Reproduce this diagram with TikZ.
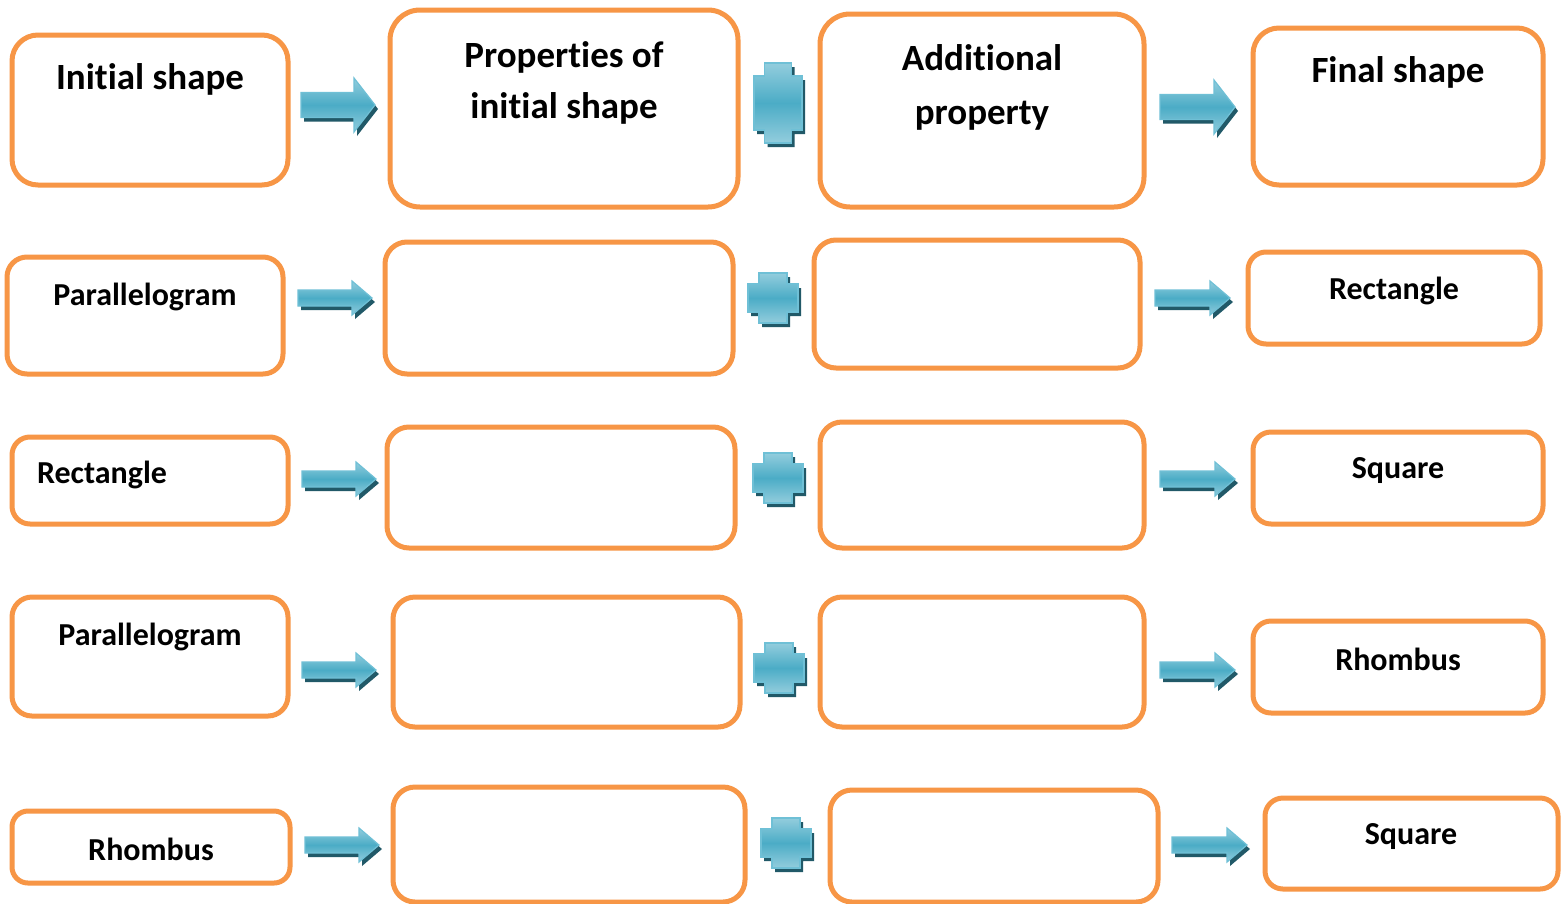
\documentclass[tikz,border=0pt]{standalone}
\usepackage{fontspec}
\setmainfont{Carlito}[Ligatures={NoCommon}]
\definecolor{boxor}{HTML}{F79646}
\definecolor{arrmid}{HTML}{4BACC6}
\definecolor{arrlight}{HTML}{93CDDD}
\definecolor{arredge}{HTML}{6FC0D6}
\definecolor{arrshadow}{HTML}{215968}
\tikzset{
  box/.style={draw=boxor, line width=5pt, fill=white, inner sep=0pt},
  hdr/.style={font=\fontsize{37}{51}\selectfont\bfseries, align=center, inner sep=0pt},
  lbl/.style={font=\fontsize{32}{36}\selectfont\bfseries, inner sep=0pt},
  shapebody/.style={top color=arrlight, bottom color=arrlight, middle color=arrmid, draw=arredge, line width=1.2pt},
  shapeshadow/.style={fill=arrshadow},
}
% box: name, x1, y1, x2, y2, radius
\newcommand\obox[6]{\node[box, rounded corners=#6, minimum width={(#4-#2)*1pt}, minimum height={(#5-#3)*1pt}] (#1) at ({(#2+#4)/2},{(#3+#5)/2}) {};}
% block arrow: xL, xT, yc, shaft half, head half, head length
\newcommand\barrow[6]{%
  \def\arrpath{(#1,{#3-#4}) -- ({#2-#6},{#3-#4}) -- ({#2-#6},{#3-#5}) -- (#2,#3) -- ({#2-#6},{#3+#5}) -- ({#2-#6},{#3+#4}) -- (#1,{#3+#4}) -- cycle}%
  \fill[shapeshadow, shift={(3,4)}] \arrpath;
  \path[shapebody] \arrpath;}
% plus: xc, yc, W, H, a, b
\newcommand\bplus[6]{%
  \def\pluspath{({#1-#5},{#2-#4}) -- ({#1+#5},{#2-#4}) -- ({#1+#5},{#2-#6}) -- ({#1+#3},{#2-#6}) -- ({#1+#3},{#2+#6}) -- ({#1+#5},{#2+#6}) -- ({#1+#5},{#2+#4}) -- ({#1-#5},{#2+#4}) -- ({#1-#5},{#2+#6}) -- ({#1-#3},{#2+#6}) -- ({#1-#3},{#2-#6}) -- ({#1-#5},{#2-#6}) -- cycle}%
  \fill[shapeshadow, shift={(3,4)}] \pluspath;
  \path[shapebody] \pluspath;}
\begin{document}
\begin{tikzpicture}[x=1pt, y=-1pt]
\fill[white] (0,0) rectangle (1563,903);
\useasboundingbox (0,0) rectangle (1563,903);
% Row 1
\obox{a1}{12}{35}{288}{185}{26}
\obox{b1}{390}{10}{738}{207}{30}
\obox{c1}{820}{14}{1144}{207}{30}
\obox{d1}{1253}{28}{1543}{185}{26}
\node[hdr] (ta1) at (150,79) {Initial shape};
\node[hdr] (tb1) at (564,83) {Properties of\\initial shape};
\node[hdr, font=\fontsize{37}{54}\selectfont\bfseries] (tc1) at (982,87) {Additional\\property};
\node[hdr] (td1) at (1398,72) {Final shape};
\barrow{301}{375}{105}{12.5}{27}{21}
\bplus{778}{103}{24}{40}{13.5}{27}
\barrow{1160}{1235}{107}{12.5}{27}{21}
% Row 2
\obox{a2}{7}{257}{283}{374}{20}
\obox{b2}{385}{242}{733}{374}{22}
\obox{c2}{814}{240}{1140}{368}{22}
\obox{d2}{1248}{252}{1540}{344}{18}
\node[lbl] (ta2) at (145,297) {Parallelogram};
\node[lbl] (td2) at (1394,291) {Rectangle};
\barrow{298}{372}{298}{8}{17}{20}
\bplus{773}{298}{25}{25}{14}{14}
\barrow{1155}{1230}{298}{8}{17}{20}
% Row 3
\obox{a3}{12}{437}{288}{524}{18}
\obox{b3}{387}{427}{735}{548}{22}
\obox{c3}{820}{422}{1144}{548}{22}
\obox{d3}{1253}{432}{1543}{524}{18}
\node[lbl] (ta3) at (102,475) {Rectangle};
\node[lbl] (td3) at (1398,471) {Square};
\barrow{302}{376}{479}{8}{17}{20}
\bplus{778}{478}{25}{25}{14}{14}
\barrow{1160}{1235}{479}{8}{17}{20}
% Row 4
\obox{a4}{12}{597}{288}{716}{20}
\obox{b4}{393}{597}{740}{727}{22}
\obox{c4}{820}{597}{1144}{727}{22}
\obox{d4}{1253}{621}{1543}{713}{18}
\node[lbl] (ta4) at (150,637) {Parallelogram};
\node[lbl] (td4) at (1398,659) {Rhombus};
\barrow{302}{376}{670}{8}{17}{20}
\bplus{779}{668}{25}{25}{14}{14}
\barrow{1160}{1235}{670}{8}{17}{20}
% Row 5
\obox{a5}{12}{811}{290}{883}{16}
\obox{b5}{393}{787}{745}{902}{22}
\obox{c5}{830}{790}{1158}{902}{22}
\obox{d5}{1265}{798}{1558}{889}{18}
\node[lbl] (ta5) at (151,849) {Rhombus};
\node[lbl] (td5) at (1411,837) {Square};
\barrow{305}{379}{845}{8}{17}{20}
\bplus{786}{843}{25}{25}{14}{14}
\barrow{1172}{1247}{845}{8}{17}{20}
\end{tikzpicture}
\end{document}
